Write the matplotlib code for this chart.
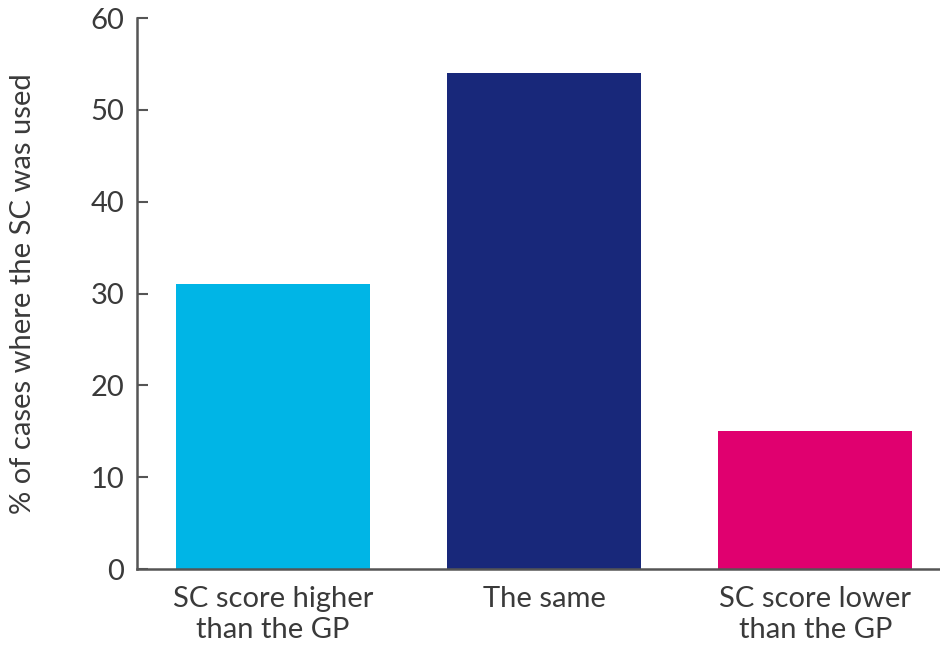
import matplotlib
matplotlib.use("Agg")
import matplotlib.pyplot as plt

categories = ["SC score higher\nthan the GP", "The same", "SC score lower\nthan the GP"]
values = [31, 54, 15]
colors = ["#00B5E6", "#18287A", "#E0006F"]
yticks = [0, 10, 20, 30, 40, 50, 60]

plt.rcParams['font.family'] = ['Lato', 'DejaVu Sans']
text_color = "#3a3a3a"

fig = plt.figure(figsize=(9.4, 6.45), dpi=100)
ax = fig.add_axes([0.1457, 0.1178, 0.8543, 0.854])
x = list(range(len(categories)))
ax.bar(x, values, width=0.716, color=colors)
ax.set_xlim(-0.502, 2.46)
ax.set_ylim(0, 60)
ax.set_yticks(yticks)
ax.set_xticks(x)
ax.set_xticklabels(categories, fontsize=21, color=text_color, linespacing=1.25)
ax.tick_params(axis='x', length=0, pad=12)
ax.tick_params(axis='y', direction='in', length=8, width=1.5, color="#555555",
               labelsize=21, labelcolor=text_color, pad=9)
for s in ['top', 'right']:
    ax.spines[s].set_visible(False)
for s in ['left', 'bottom']:
    ax.spines[s].set_color("#555555")
    ax.spines[s].set_linewidth(1.8)
ax.set_ylabel("% of cases where the SC was used", fontsize=21, color=text_color)
ax.yaxis.set_label_coords(-0.126, 0.5)
fig.savefig("out.png", dpi=100)
